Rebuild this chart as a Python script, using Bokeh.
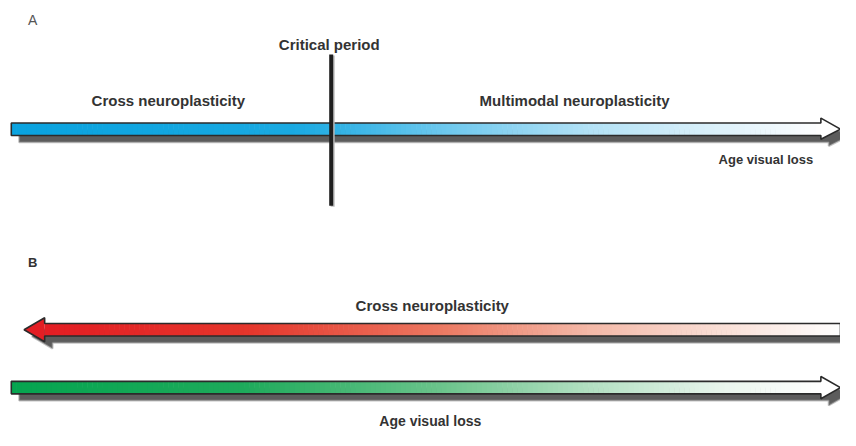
import numpy as np
from bokeh.plotting import figure
from bokeh.models import Range1d
from bokeh.core.properties import value
from bokeh.embed import file_html
from bokeh.resources import INLINE

# ---- diagram content (image pixel coordinates of the reference) ----
panel_labels = ["A", "B"]
panel_label_x = [28, 28]
panel_label_y = [20, 272]

# Arrow A (blue, pointing right)
a_start, a_base, a_tip = 11, 836, 856
a_top, a_bot, a_head_top, a_head_bot = 127, 140, 122, 144
a_stops_x = [11, 300, 450, 600, 760, 836]
a_stops_c = ["#0aa3df", "#1aaae2", "#6cc8ee", "#b3e2f6", "#e6f5fc", "#ffffff"]

# Arrow B1 (red, pointing left)
r_start, r_base, r_tip = 856, 45, 24
r_top, r_bot, r_head_top, r_head_bot = 335, 348, 329, 354
r_stops_x = [45, 250, 450, 600, 760, 856]
r_stops_c = ["#e31e24", "#e5362c", "#ec7a63", "#f4b9a8", "#fbe6df", "#ffffff"]

# Arrow B2 (green, pointing right)
g_start, g_base, g_tip = 11, 836, 856
g_top, g_bot, g_head_top, g_head_bot = 395, 408, 390, 413
g_stops_x = [11, 250, 450, 600, 740, 836]
g_stops_c = ["#06a550", "#1fab5c", "#6cc48c", "#b3e0c2", "#eaf6ee", "#ffffff"]

critical_x = 337
critical_y = [56, 213]

labels = ["Critical period", "Cross neuroplasticity", "Multimodal neuroplasticity",
          "Age visual loss", "Cross neuroplasticity", "Age visual loss"]
label_x = [335, 171, 585, 780, 440, 438]
label_y = [46, 104, 104, 165, 316, 436]
label_size = ["15px", "15px", "15px", "13px", "15px", "14px"]

p = figure(width=840, height=430, output_backend="svg", toolbar_location=None,
           x_range=Range1d(0, 856), y_range=Range1d(446, 0),
           min_border=0, background_fill_color="white")
p.axis.visible = False
p.grid.visible = False
p.outline_line_color = None


def hex2rgb(h):
    h = h.lstrip("#")
    return np.array([int(h[i:i + 2], 16) for i in (0, 2, 4)], dtype=float)


def gradient_colors(xs, stops_x, stops_c):
    rgb = np.array([hex2rgb(c) for c in stops_c])
    out = []
    for x in xs:
        r = np.interp(x, stops_x, rgb[:, 0])
        g = np.interp(x, stops_x, rgb[:, 1])
        b = np.interp(x, stops_x, rgb[:, 2])
        out.append("#%02x%02x%02x" % (int(r), int(g), int(b)))
    return out


def arrow(start, base, tip, top, bot, htop, hbot, sx, sc, head_fill, dx=8, dy=7):
    mid = (top + bot) / 2
    xs = [start, base, base, tip, base, base, start]
    ys = [top, top, htop, mid, hbot, bot, bot]
    # shadow
    p.patch([x + dx for x in xs], [y + dy for y in ys], fill_color="#4a4a4a",
            fill_alpha=0.9, line_color="#8a8a8a", line_alpha=0.5, line_width=2)
    # gradient bar
    lo, hi = min(start, base), max(start, base)
    edges = np.linspace(lo, hi, 161)
    centers = (edges[:-1] + edges[1:]) / 2
    cols = gradient_colors(centers, sx, sc)
    p.quad(left=edges[:-1], right=edges[1:] + 0.6, top=[top] * len(centers),
           bottom=[bot] * len(centers), fill_color=cols, line_color=None)
    # head
    p.patch([base, base, tip, base, base], [top, htop, mid, hbot, bot],
            fill_color=head_fill, line_color=None)
    # outline
    p.patch(xs, ys, fill_color=None, line_color="#2b2b2b", line_width=1.6)


arrow(a_start, a_base, a_tip, a_top, a_bot, a_head_top, a_head_bot,
      a_stops_x, a_stops_c, "#ffffff")
arrow(r_start, r_base, r_tip, r_top, r_bot, r_head_top, r_head_bot,
      r_stops_x, r_stops_c, r_stops_c[0])
arrow(g_start, g_base, g_tip, g_top, g_bot, g_head_top, g_head_bot,
      g_stops_x, g_stops_c, "#ffffff")

# critical period line
p.line([critical_x + 1.5, critical_x + 1.5], [critical_y[0] + 1, critical_y[1] + 1],
       line_color="#bbbbbb", line_width=4)
p.line([critical_x, critical_x], critical_y, line_color="#1e1e1e", line_width=4)

# texts
for t, x, y, s in zip(labels, label_x, label_y, label_size):
    p.text(x=[x], y=[y], text=[t], text_font=value("Liberation Sans"),
           text_font_style="bold", text_font_size=s, text_color="#333333",
           text_align="center", text_baseline="middle")

p.text(x=[panel_label_x[0]], y=[panel_label_y[0]], text=[panel_labels[0]],
       text_font=value("Liberation Sans"), text_font_size="14px",
       text_color="#555555", text_align="left", text_baseline="middle")
p.text(x=[panel_label_x[1]], y=[panel_label_y[1]], text=[panel_labels[1]],
       text_font=value("Liberation Sans"), text_font_style="bold",
       text_font_size="13px", text_color="#333333", text_align="left",
       text_baseline="middle")

open("out.html", "w").write(file_html(p, INLINE))
